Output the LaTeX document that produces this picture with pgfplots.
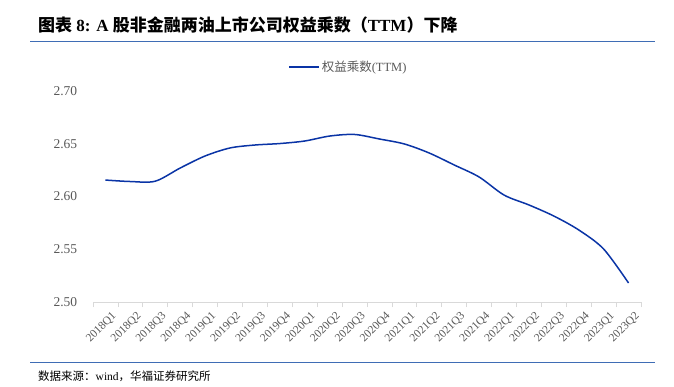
\documentclass[border=0pt]{standalone}
\usepackage{pgfplots}
\pgfplotsset{compat=1.18}
\usepackage{fontspec}
\setmainfont{Liberation Serif}
\newfontfamily\cjk{Noto Sans CJK SC}
\definecolor{lineblue}{HTML}{0A34A6}
\definecolor{rule}{HTML}{3F6DB5}
\definecolor{tickgray}{HTML}{595959}
\begin{document}
\begin{tikzpicture}[x=1pt,y=1pt]
\useasboundingbox (0pt,0pt) rectangle (674pt,386pt);
\node[anchor=base west,inner sep=0] at (38pt,354pt) {\fontsize{17}{19}\selectfont\bfseries{\cjk\bfseries 图表} 8: A {\cjk\bfseries 股非金融两油上市公司权益乘数（}TTM{\cjk\bfseries ）下降}};
\draw[rule,line width=1pt] (30pt,344pt) -- (655pt,344pt);
\draw[rule,line width=1pt] (30pt,24pt) -- (655pt,24pt);
\node[anchor=base west,inner sep=0] at (38pt,6pt) {\fontsize{11.5}{13}\selectfont{\cjk 数据来源：}wind{\cjk ，华福证券研究所}};
\begin{axis}[
  at={(93pt,84pt)}, anchor=south west,
  scale only axis, width=548pt, height=211pt,
  xmin=-0.5, xmax=21.5, ymin=2.50, ymax=2.70,
  ytick={2.50,2.55,...,2.70},
  yticklabel style={/pgf/number format/fixed,/pgf/number format/fixed zerofill,/pgf/number format/precision=2,/pgf/number format/assume math mode=true,font=\fontsize{13.5}{15}\selectfont,text=tickgray,xshift=-8pt},
  xtick={0,...,21},
  xticklabels={2018Q1,2018Q2,2018Q3,2018Q4,2019Q1,2019Q2,2019Q3,2019Q4,2020Q1,2020Q2,2020Q3,2020Q4,2021Q1,2021Q2,2021Q3,2021Q4,2022Q1,2022Q2,2022Q3,2022Q4,2023Q1,2023Q2},
  xticklabel style={rotate=45,anchor=north east,font=\fontsize{11.5}{12}\selectfont,text=tickgray,inner sep=1pt,yshift=-6pt,xshift=2pt},
  major x tick style={draw=none},
  minor xtick={-0.5,0.5,...,21.5},
  minor x tick style={draw=black!15,line width=0.8pt},
  minor tick length=5pt,
  tick align=outside,
  axis x line*=bottom, axis y line*=left,
  x axis line style={draw=black!15,line width=0.8pt,-},
  y axis line style={draw=none},
  major y tick style={draw=none},
  legend style={at={(0.466,1.114)},anchor=center,draw=none,fill=none,font=\fontsize{12.5}{14}\selectfont\color{tickgray},inner sep=0pt},
  legend image code/.code={\draw[#1,line width=1.5pt] (0pt,0pt) -- (30pt,0pt);},
  legend cell align=left,
  clip=false,
]
\addplot[lineblue,line width=1.5pt,smooth,tension=0.5] coordinates {
(0,2.6156) (1,2.6142) (2,2.6145) (3,2.6270) (4,2.6384) (5,2.6460) (6,2.6488) (7,2.6502)
(8,2.6526) (9,2.6573) (10,2.6588) (11,2.6545) (12,2.6498) (13,2.6412) (14,2.6299) (15,2.6185)
(16,2.6014) (17,2.5920) (18,2.5815) (19,2.5683) (20,2.5502) (21,2.5180)};
\addlegendentry{{\cjk 权益乘数}(TTM)}
\end{axis}
\end{tikzpicture}
\end{document}
